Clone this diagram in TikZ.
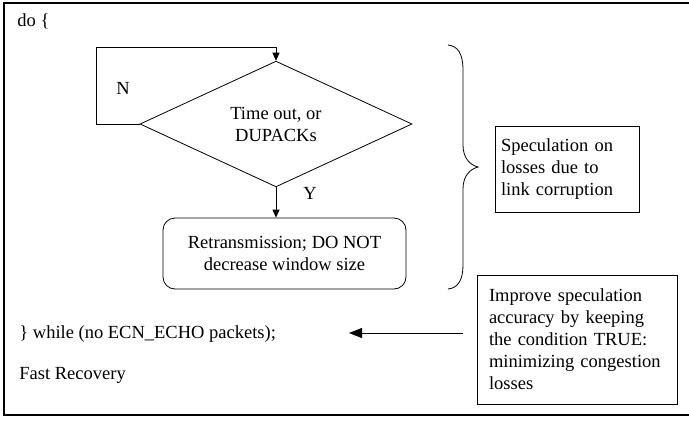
\documentclass[tikz,border=0pt]{standalone}
\usepackage{fontspec}
\setmainfont{Liberation Serif}
\usetikzlibrary{arrows.meta,shapes.geometric}

\begin{document}
\begin{tikzpicture}[
            x=1pt, y=-1pt,
            font=\fontsize{18.5}{22}\selectfont,
            -{Triangle[length=8pt,width=7pt]}, % arrow head style
            line width=0.8pt
            ]
            \useasboundingbox (0,0) rectangle (689,421);
            % outer frame, right side runs off the page
            \draw[-, line width=1.3pt] (4,3) rectangle (700,415);

            \node[anchor=base west, inner sep=0] (do) at (17,26) {do \{};
            \node[anchor=base west, inner sep=0] (while) at (19,338) {\} while (no ECN\_ECHO packets);};
            \node[anchor=base west, inner sep=0] (fast) at (19,379) {Fast Recovery};

            \node[draw, diamond, minimum width=272pt, minimum height=100pt,
            inner sep=0, align=center] (test) at (276,124) {Time out, or\\DUPACKs};
            \node[draw, rectangle, rounded corners=12pt, minimum width=243pt,
            minimum height=71pt, align=center] (retx) at (284.5,253.5) {Retransmission; DO NOT\\decrease window size};

            \node (n) at (123,88) {N};
            \node (y) at (310,193) {Y};

            \node[draw, rectangle, text width=132pt, inner xsep=6pt,
            minimum height=86pt, align=left] (spec) at (567,169) {Speculation on\\losses due to\\link corruption};
            \node[draw, rectangle, text width=176pt, inner xsep=12pt,
            minimum height=129pt, align=left] (improve) at (577,339.5) {Improve speculation\\accuracy by keeping\\the condition TRUE:\\minimizing congestion\\losses};

            \coordinate (loop) at (96,47);
            \coordinate (arrstart) at (463,333);
            \coordinate (arrend) at (349,333);

            \draw (test.west) -| (loop) -| (test.north);
            \draw (test.south) -- (test.south |- retx.north);
            \draw[-{Triangle[length=13pt,width=10pt]}] (arrstart) -- (arrend);

            % brace round the loop body
            \draw[-] (448,45) .. controls (458,46) and (463,54) .. (463,70)
            -- (463,145) .. controls (463,158) and (470,165) .. (478,167)
            .. controls (470,169) and (463,176) .. (463,189)
            -- (463,265) .. controls (463,280) and (458,288) .. (448,289);
        \end{tikzpicture}
\end{document}
